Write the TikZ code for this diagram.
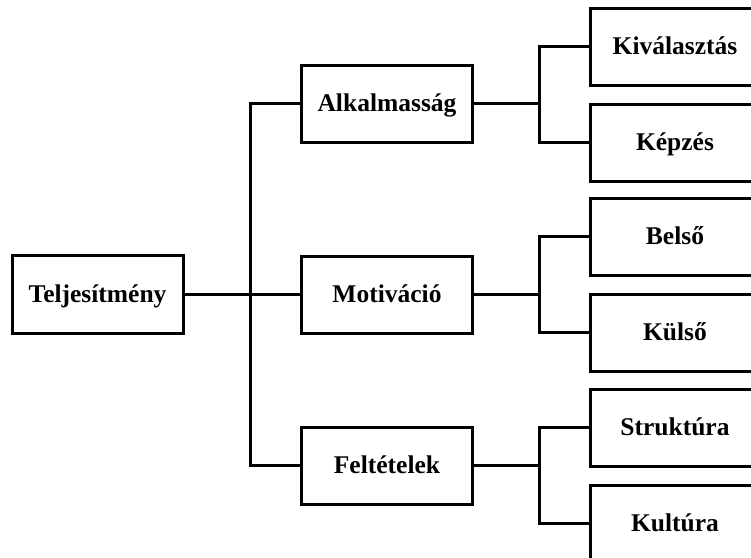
\documentclass[tikz,border=0pt]{standalone}
\usepackage{fontspec}
\setmainfont{Liberation Serif}
\begin{document}
\begin{tikzpicture}[x=1pt,y=-1pt,
  box/.style={draw, line width=3pt, minimum width=171pt, minimum height=77pt,
    inner sep=0pt, text height=16.6pt, text depth=0pt,
    font=\fontsize{25.5}{30}\selectfont\bfseries},
  leaf/.style={box, minimum width=170pt},
  link/.style={line width=3pt}]
\useasboundingbox (0,0) rectangle (751,557);
\clip (0,0) rectangle (751,557);
\fill[white] (0,0) rectangle (751,557);

% root
\node[box, minimum height=78pt] (tel) at (97.5,294.5) {Teljesítmény};

% second level
\node[box] (alk) at (387,103.5) {Alkalmasság};
\node[box] (mot) at (387,294.5) {Motiváció};
\node[box] (fel) at (387,465.5) {Feltételek};

% leaves
\node[leaf] (kiv) at (675,46.5)  {Kiválasztás};
\node[leaf] (kep) at (675,142.5) {Képzés};
\node[leaf] (bel) at (675,236.5) {Belső};
\node[leaf] (kul) at (675,332.5) {Külső};
\node[leaf] (str) at (675,427.5) {Struktúra};
\node[leaf] (ktr) at (675,523.5) {Kultúra};

% junction points of the brackets
\coordinate (bus) at (250,294.5);
\coordinate (ja) at (539,103.5);
\coordinate (jm) at (539,294.5);
\coordinate (jf) at (539,465.5);

% root to second level
\draw[link] (tel.east) -- (mot.west);
\draw[link] (alk.west) -| (bus) |- (fel.west);

% second level to leaves
\draw[link] (alk.east) -- (ja);
\draw[link] (kiv.west) -| (ja) |- (kep.west);
\draw[link] (mot.east) -- (jm);
\draw[link] (bel.west) -| (jm) |- (kul.west);
\draw[link] (fel.east) -- (jf);
\draw[link] (str.west) -| (jf) |- (ktr.west);
\end{tikzpicture}
\end{document}
